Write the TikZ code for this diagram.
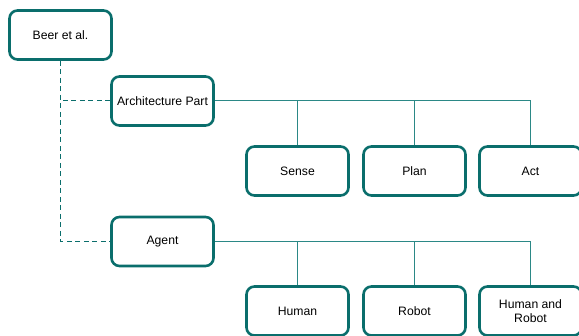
\documentclass[tikz,border=0pt]{standalone}
\usepackage{fontspec}
\setmainfont{Liberation Sans}
\begin{document}
\begin{tikzpicture}[x=1pt,y=-1pt,
  box/.style={draw=boxc, line width=2.6pt, rounded corners=8pt, fill=white,
    minimum width=102pt, minimum height=49pt, align=center, font=\fontsize{12.2}{14}\selectfont, inner sep=2pt},
  conn/.style={draw=linec, line width=1pt},
  dconn/.style={draw=boxc, line width=1pt, dash pattern=on 5pt off 3.5pt}]
\definecolor{boxc}{HTML}{0A6E6C}
\definecolor{linec}{HTML}{2B8886}
\useasboundingbox (0,0) rectangle (579,336);
\node[box] (beer) at (60.5,35) {Beer et al.};
\node[box] (arch) at (162.5,101) {Architecture Part};
\node[box] (agent) at (162.5,241.5) {Agent};
\node[box] (sense) at (297.5,171) {Sense};
\node[box] (plan) at (414.5,171) {Plan};
\node[box] (act) at (530.5,171) {Act};
\node[box] (human) at (297.5,311) {Human};
\node[box] (robot) at (414.5,311) {Robot};
\node[box] (hr) at (530.5,311) {Human and\\Robot};
\draw[dconn] (beer.south) |- (arch.west);
\draw[dconn] (beer.south) |- (agent.west);
\draw[conn] (arch.east) -| (act.north);
\draw[conn] (sense.north) -- (sense.north |- arch.east);
\draw[conn] (plan.north) -- (plan.north |- arch.east);
\draw[conn] (agent.east) -| (hr.north);
\draw[conn] (human.north) -- (human.north |- agent.east);
\draw[conn] (robot.north) -- (robot.north |- agent.east);
\end{tikzpicture}
\end{document}
